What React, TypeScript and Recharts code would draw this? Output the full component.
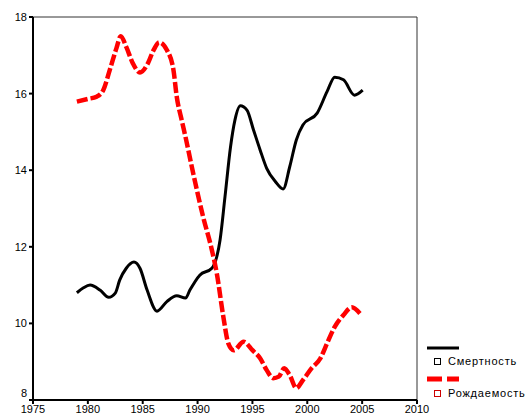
import { LineChart, Line, XAxis, YAxis, ReferenceLine } from "recharts";

const mortalityYears = [
  1979, 1979.6, 1980.2, 1981.1, 1981.9, 1982.5, 1982.9, 1983.5, 1984.2, 1984.75, 1985.4,
  1986.3, 1987.2, 1988.1, 1988.9, 1989.3, 1990.2, 1991.3, 1991.75, 1992.05, 1992.5, 1993.0,
  1993.4, 1993.9, 1994.5, 1995.1, 1995.7, 1996.3, 1997.1, 1997.8, 1998.4, 1999.0, 1999.6,
  2000.9, 2001.8, 2002.5, 2003.3, 2004.3, 2005.05,
];
const mortality = [
  10.8, 10.93, 11.0, 10.87, 10.68, 10.79, 11.13, 11.44, 11.6, 11.44, 10.87, 10.32, 10.57,
  10.72, 10.66, 10.87, 11.26, 11.44, 11.74, 12.18, 13.31, 14.6, 15.3, 15.68, 15.57, 15.05,
  14.53, 14.05, 13.7, 13.51, 14.09, 14.79, 15.18, 15.49, 16.05, 16.43, 16.36, 15.96, 16.09,
];

const birthYears = [
  1979, 1980.0, 1980.8, 1981.4, 1982.0, 1982.6, 1983.0, 1983.5, 1984.1, 1984.75, 1985.4,
  1986.0, 1986.5, 1987.2, 1987.8, 1988.1, 1988.55, 1988.9, 1989.6, 1990.5, 1991.3, 1991.75,
  1992.35, 1992.8, 1993.3, 1994.2, 1995.0, 1995.7, 1996.3, 1996.9, 1997.4, 1997.9, 1998.4,
  1999.0, 1999.6, 2000.4, 2001.2, 2001.8, 2002.5, 2003.3, 2004.05, 2004.8,
];
const births = [
  15.79, 15.86, 15.92, 16.09, 16.62, 17.18, 17.5, 17.22, 16.79, 16.55, 16.75, 17.14, 17.34,
  17.14, 16.62, 15.92, 15.31, 14.87, 13.92, 12.79, 11.92, 11.31, 10.17, 9.48, 9.3, 9.52,
  9.3, 9.09, 8.78, 8.57, 8.61, 8.83, 8.65, 8.31, 8.52, 8.83, 9.09, 9.48, 9.91, 10.22,
  10.42, 10.26,
];

const xTicks = [1975, 1980, 1985, 1990, 1995, 2000, 2005, 2010];
const yTicks = [8, 10, 12, 14, 16, 18];
const seriesNames = ["Смертность", "Рождаемость"];

const mortalityData = mortalityYears.map((year, i) => ({ year, value: mortality[i] }));
const birthData = birthYears.map((year, i) => ({ year, value: births[i] }));

const font = "'Liberation Sans', Arial, sans-serif";

// bottom label sits a bit above its tick, like in the original
const YTick = (props: any) => {
  const { x, y, payload } = props;
  const shift = payload.value === yTicks[0] ? -7 : 0;
  return (
    <text x={x} y={y + shift} dy="0.355em" textAnchor="end" fill="#000" fontSize={11} fontFamily={font}>
      {payload.value}
    </text>
  );
};

// legend drawn as a plain overlay so recharts doesn't shrink the plot for it
const ChartLegend = () => (
  <div
    style={{
      position: "absolute",
      left: 425,
      top: 345,
      width: 103,
      fontFamily: font,
      fontSize: 11,
      color: "#000",
      letterSpacing: 0.8,
    }}
  >
    <svg width={34} height={6} style={{ display: "block", marginLeft: 2 }}>
      <line x1={0} y1={3} x2={32} y2={3} stroke="#000" strokeWidth={3} />
    </svg>
    <div style={{ display: "flex", alignItems: "center", height: 20 }}>
      <span style={{ width: 5, height: 5, border: "1px solid #000", marginLeft: 9, marginRight: 7 }} />
      {seriesNames[0]}
    </div>
    <svg width={34} height={8} style={{ display: "block", marginLeft: 2, marginTop: 4 }}>
      <line x1={0} y1={4} x2={32} y2={4} stroke="#f00" strokeWidth={5} strokeDasharray="15 5" />
    </svg>
    <div style={{ display: "flex", alignItems: "center", height: 20 }}>
      <span style={{ width: 5, height: 5, border: "1px solid #c00", marginLeft: 9, marginRight: 7 }} />
      {seriesNames[1]}
    </div>
  </div>
);

export default function App() {
  return (
    <div style={{ position: "absolute", left: 0, top: 0, width: 528, height: 414, background: "#fff" }}>
      <LineChart width={528} height={414} margin={{ top: 17, right: 111, bottom: 0, left: 8 }}>
        <XAxis
          type="number"
          dataKey="year"
          domain={[1975, 2010]}
          ticks={xTicks}
          height={14}
          tickSize={4}
          tickMargin={1}
          axisLine={{ stroke: "#000", strokeWidth: 2 }}
          tickLine={{ stroke: "#000", strokeWidth: 2 }}
          tick={{ fill: "#000", fontSize: 11, fontFamily: font }}
          allowDataOverflow
        />
        <YAxis
          type="number"
          domain={[8, 18]}
          ticks={yTicks}
          width={25}
          tickSize={4}
          tickMargin={2}
          axisLine={{ stroke: "#000", strokeWidth: 2 }}
          tickLine={{ stroke: "#000", strokeWidth: 2 }}
          tick={<YTick />}
          allowDataOverflow
        />
        <ReferenceLine y={18} stroke="#333" strokeWidth={1} />
        <ReferenceLine x={2010} stroke="#333" strokeWidth={1} />
        <Line
          data={mortalityData}
          dataKey="value"
          name={seriesNames[0]}
          type="monotone"
          stroke="#000"
          strokeWidth={3}
          dot={false}
          isAnimationActive={false}
        />
        <Line
          data={birthData}
          dataKey="value"
          name={seriesNames[1]}
          type="monotone"
          stroke="#f00"
          strokeWidth={4.5}
          strokeDasharray="11 3"
          dot={false}
          isAnimationActive={false}
        />
      </LineChart>
      <ChartLegend />
    </div>
  );
}
